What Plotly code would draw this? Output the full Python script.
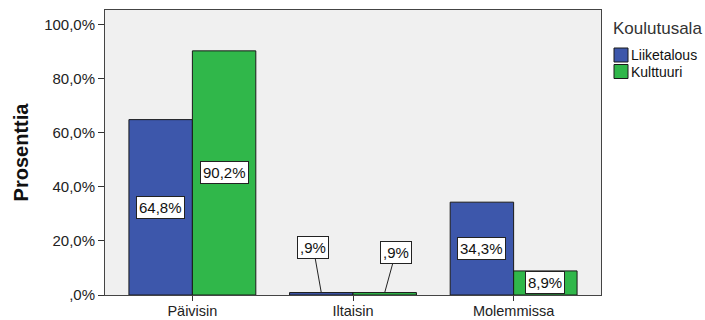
import plotly.graph_objects as go

categories = ["Päivisin", "Iltaisin", "Molemmissa"]
liiketalous = [64.8, 0.9, 34.3]
kulttuuri = [90.2, 0.9, 8.9]
tick_values = [0, 20, 40, 60, 80, 100]
tick_labels = [",0%", "20,0%", "40,0%", "60,0%", "80,0%", "100,0%"]
series_names = ["Liiketalous", "Kulttuuri"]
legend_title = "Koulutusala"
y_title = "Prosenttia"

BLUE = "#3D57AB"
GREEN = "#30B74A"
FONT = "Liberation Sans, Arial, sans-serif"

W, H = 705, 320
ML, MR, MT, MB = 105, 104, 10, 25
PW, PH = W - ML - MR, H - MT - MB


def px_x(px):
    return (px - ML) / PW


def px_y(py):
    return (H - MB - py) / PH


def fmt(v):
    s = f"{v:.1f}".replace(".", ",")
    if s.startswith("0"):
        s = s[1:]
    return s + "%"


fig = go.Figure()
colors = [BLUE, GREEN]
for name, vals, col in zip(series_names, [liiketalous, kulttuuri], colors):
    fig.add_trace(go.Bar(
        x=categories, y=vals, name=name, showlegend=False,
        marker=dict(color=col, line=dict(color="#1a1a1a", width=1)),
    ))

bargap = 0.21
half = (1 - bargap) / 4  # offset of each bar center from category center

annotations = []
for si, vals in enumerate([liiketalous, kulttuuri]):
    off = -half if si == 0 else half
    for ci, v in enumerate(vals):
        common = dict(
            x=ci + off, xref="x", yref="y",
            text=fmt(v),
            font=dict(family=FONT, size=15, color="#111"),
            bgcolor="white", bordercolor="#222", borderwidth=1, borderpad=2,
        )
        if v < 5:
            annotations.append(dict(
                y=v, showarrow=True, arrowhead=0, arrowwidth=1, arrowcolor="#222",
                ax=-8 if si == 0 else 11, ay=-45 if si == 0 else -40,
                standoff=0, **common,
            ))
        else:
            annotations.append(dict(y=v / 2, showarrow=False, **common))

# custom legend (SPSS style: swatch directly followed by text)
annotations.append(dict(
    text=legend_title, xref="paper", yref="paper", x=px_x(611), y=px_y(29),
    xanchor="left", yanchor="middle", showarrow=False,
    font=dict(family=FONT, size=17, color="#333"),
))
shapes = []
for i, (name, col) in enumerate(zip(series_names, colors)):
    cy = 55 + i * 16.5
    shapes.append(dict(
        type="rect", xref="paper", yref="paper",
        x0=px_x(614), x1=px_x(628), y0=px_y(cy - 7), y1=px_y(cy + 7),
        fillcolor=col, line=dict(color="#1a1a1a", width=1),
    ))
    annotations.append(dict(
        text=name, xref="paper", yref="paper", x=px_x(629), y=px_y(cy),
        xanchor="left", yanchor="middle", showarrow=False,
        font=dict(family=FONT, size=14, color="#111"),
    ))

fig.update_layout(
    width=W, height=H,
    margin=dict(l=ML, r=MR, t=MT, b=MB),
    paper_bgcolor="white", plot_bgcolor="#F0F0F0",
    barmode="group", bargap=bargap, bargroupgap=0,
    font=dict(family=FONT, size=15, color="#222"),
    annotations=annotations, shapes=shapes,
    showlegend=False,
)
fig.update_xaxes(
    range=[-0.544, 2.544], showline=True, mirror=True, linecolor="#444", linewidth=1,
    ticks="outside", ticklen=5, tickcolor="#333", showgrid=False, automargin=False,
    ticklabelstandoff=-2,
    tickfont=dict(family=FONT, size=14.5, color="#222"),
)
fig.update_yaxes(
    range=[0, 105.3], tickvals=tick_values, ticktext=tick_labels,
    showline=True, mirror=True, linecolor="#444", linewidth=1,
    ticks="outside", ticklen=6, tickcolor="#333", showgrid=False, zeroline=False,
    automargin=False,
    tickfont=dict(family=FONT, size=15, color="#222"),
    title=dict(text="<b>" + y_title + "</b>", font=dict(family=FONT, size=20, color="#111"), standoff=10),
)

fig.write_html("out.html")
